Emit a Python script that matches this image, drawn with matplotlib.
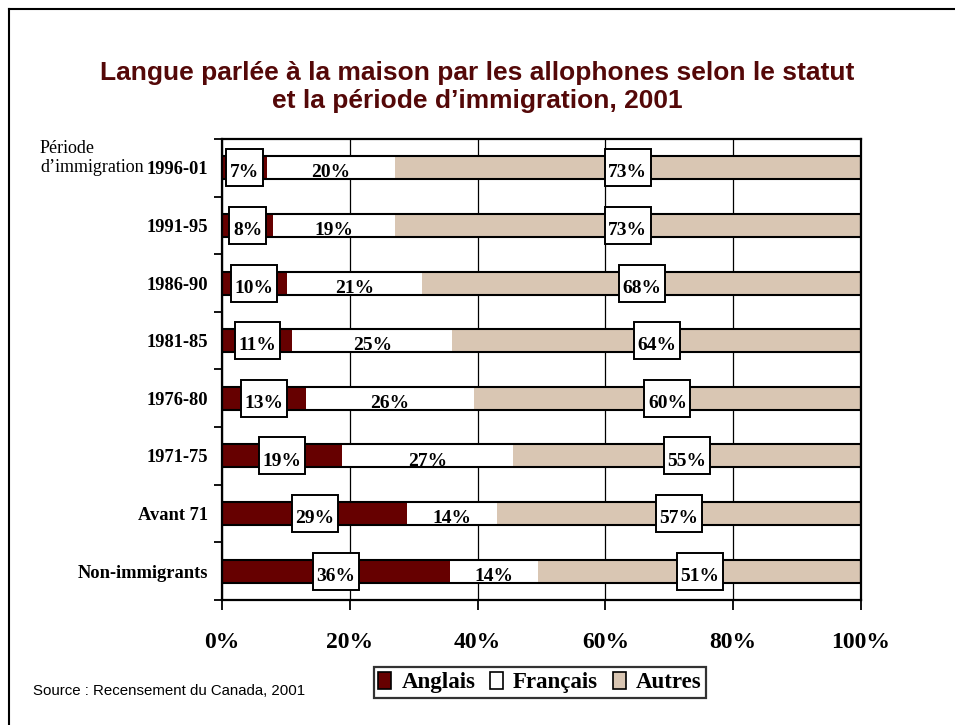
import matplotlib.pyplot as plt
import numpy as np
from matplotlib.patches import Patch, Rectangle
from matplotlib.lines import Line2D

periods = ["1996-01", "1991-95", "1986-90", "1981-85", "1976-80", "1971-75", "Avant 71", "Non-immigrants"]
anglais = [7, 8, 10, 11, 13, 19, 29, 36]
francais = [20, 19, 21, 25, 26, 27, 14, 14]
autres = [73, 73, 68, 64, 60, 55, 57, 51]

series_names = ["Anglais", "Français", "Autres"]
colors = ["#660000", "#ffffff", "#d9c6b3"]
boxed = [True, False, True]

serif = "Liberation Serif"
sans = "Liberation Sans"

fig = plt.figure(figsize=(9.55, 7.25), dpi=100)
ax = fig.add_axes([0.2325, 0.1724, 0.6691, 0.6359])

vals = np.array([anglais, francais, autres], dtype=float)
shares = vals / vals.sum(axis=0) * 100
y = np.arange(len(periods))
h = 0.4

ax.set_xlim(0, 100)
ax.set_ylim(len(periods) - 0.5, -0.5)

left = np.zeros(len(periods))
labels = []
for i, name in enumerate(series_names):
    ax.barh(y, shares[i], left=left, height=h, color=colors[i], linewidth=0, zorder=2)
    for j in range(len(periods)):
        cx = left[j] + shares[i][j] / 2
        t = ax.text(cx, y[j] + 0.09, f"{vals[i][j]:.0f}%", ha="center", va="center",
                    fontfamily=serif, fontweight="bold", fontsize=14, zorder=5)
        if boxed[i]:
            labels.append((t, cx, y[j]))
    left += shares[i]

# outline each bar (top/bottom edges)
ax.barh(y, left, height=h, fill=False, edgecolor="black", linewidth=1.5, zorder=3)

# white boxes behind the labels, a bit taller than the text
fig.canvas.draw()
r = fig.canvas.get_renderer()
px_x = ax.transData.transform((100, 0))[0] - ax.transData.transform((0, 0))[0]
px_y = abs(ax.transData.transform((0, 1))[1] - ax.transData.transform((0, 0))[1])
for t, cx, yc in labels:
    w = t.get_window_extent(r).width + 7
    bw = w / px_x * 100
    bh = 37 / px_y
    ax.add_patch(Rectangle((cx - bw / 2, yc - bh / 2), bw, bh, facecolor="white",
                           edgecolor="black", linewidth=1.4, zorder=4))

ax.set_xticks(np.arange(0, 101, 20))
ax.set_xticklabels([f"{v}%" for v in range(0, 101, 20)], fontfamily=serif,
                   fontweight="bold", fontsize=17)
ax.set_yticks(y)
ax.set_yticklabels(periods, fontfamily=serif, fontweight="bold", fontsize=13.3)
ax.set_yticks(np.arange(-0.5, len(periods), 1), minor=True)
ax.tick_params(axis="y", which="major", length=0, pad=10)
ax.tick_params(axis="y", which="minor", length=6, width=1.3, direction="out")
ax.tick_params(axis="x", length=7, width=1.3, direction="out", pad=16)
ax.grid(axis="x", color="black", linewidth=0.9, zorder=1)
for s in ax.spines.values():
    s.set_linewidth(1.6)

fig.text(0.5, 1 - 87 / 725, "Langue parlée à la maison par les allophones selon le statut\net la période d\u2019immigration, 2001",
         ha="center", va="center", fontfamily=sans, fontweight="bold", fontsize=19,
         color="#540808", linespacing=1.25)

fig.text(40 / 955, 1 - 158 / 725, "Période\nd\u2019immigration", ha="left", va="center",
         fontfamily=serif, fontsize=13, linespacing=1.2)

fig.text(33 / 955, 1 - 691 / 725, "Source : Recensement du Canada, 2001", ha="left", va="center",
         fontfamily=sans, fontsize=10.8)

handles = [Patch(facecolor=c, edgecolor="black", linewidth=1.2) for c in colors]
leg = fig.legend(handles, series_names, loc="center", bbox_to_anchor=(540 / 955, 1 - 682.5 / 725),
                 ncol=3, frameon=True, fancybox=False, edgecolor="black", handlelength=0.55,
                 handleheight=0.75, handletextpad=0.45, columnspacing=0.65, borderpad=0.2,
                 borderaxespad=0, prop={"family": serif, "weight": "bold", "size": 16.5})
leg.get_frame().set_linewidth(1.6)

# outer frame
fig.add_artist(Line2D([8.5 / 955, 8.5 / 955], [0, 1 - 8.5 / 725], color="black", lw=1.5))
fig.add_artist(Line2D([8.5 / 955, 1], [1 - 8.5 / 725, 1 - 8.5 / 725], color="black", lw=1.5))

fig.savefig("out.png", dpi=100)
